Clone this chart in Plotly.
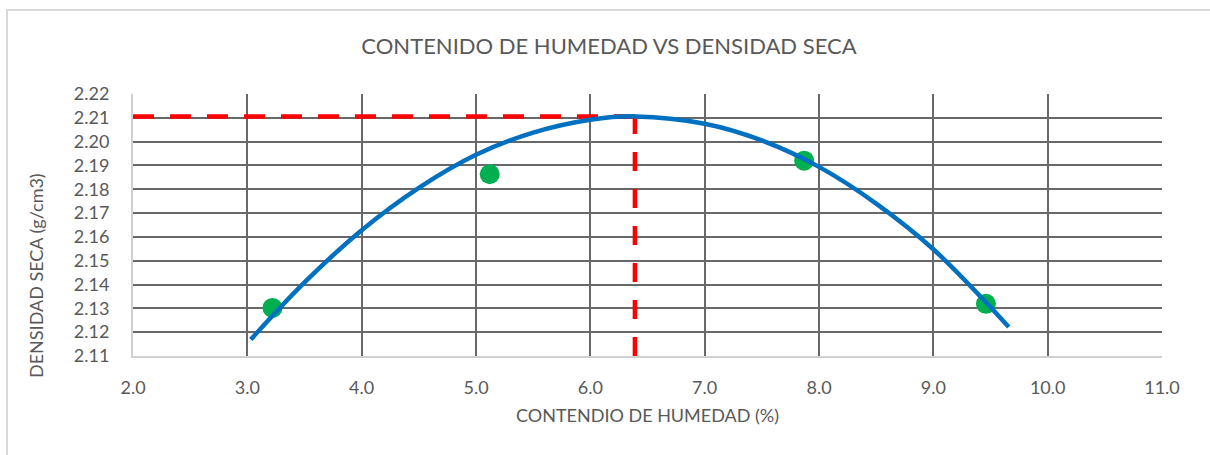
import plotly.graph_objects as go

# ---- data ----
humedad = [3.22, 5.12, 7.87, 9.46]
densidad = [2.1302, 2.1863, 2.1920, 2.1319]

curve_x = [3.03, 3.5, 4.0, 4.5, 5.0, 5.5, 6.0, 6.4, 7.0, 7.5, 8.0, 8.5, 9.0, 9.66]
curve_y = [2.1169, 2.1409, 2.1628, 2.1806, 2.1945, 2.2038, 2.2092, 2.2106,
           2.2075, 2.2005, 2.1894, 2.1740, 2.1548, 2.1222]

opt_x = [2.0, 6.39]
opt_y_h = [2.2106, 2.2106]
opt_x_v = [6.39, 6.39]
opt_y_v = [2.11, 2.2106]

x_ticks = [2.0, 3.0, 4.0, 5.0, 6.0, 7.0, 8.0, 9.0, 10.0, 11.0]
y_ticks = [2.11, 2.12, 2.13, 2.14, 2.15, 2.16, 2.17, 2.18, 2.19, 2.20, 2.21, 2.22]

# ---- layout geometry ----
W, H = 1210, 455
L, R, T, B = 133, 1162, 94, 356


def px(x):
    return (x - L) / (R - L)


def py(y):
    return (B - y) / (B - T)


FONT = "Lato"
GREY = "#595959"

fig = go.Figure()

fig.add_trace(go.Scatter(x=opt_x, y=opt_y_h, mode="lines",
                         line=dict(color="#ff0000", width=4.5, dash="21px,16px"),
                         hoverinfo="skip", showlegend=False))
fig.add_trace(go.Scatter(x=opt_x_v, y=opt_y_v, mode="lines",
                         line=dict(color="#ff0000", width=4.5, dash="19px,18px"),
                         hoverinfo="skip", showlegend=False))
fig.add_trace(go.Scatter(x=humedad, y=densidad, mode="markers",
                         marker=dict(color="#00b050", size=20),
                         showlegend=False))
fig.add_trace(go.Scatter(x=curve_x, y=curve_y, mode="lines",
                         line=dict(color="#0070c0", width=4.5, shape="spline"),
                         showlegend=False))

fig.update_layout(
    width=W, height=H,
    margin=dict(l=L, r=W - R, t=T, b=H - B),
    paper_bgcolor="white", plot_bgcolor="white",
    font=dict(family=FONT, color=GREY, size=18),
    title=dict(text="CONTENIDO DE HUMEDAD VS DENSIDAD SECA",
               x=609 / W, xanchor="center", y=1 - 46 / H, yanchor="middle",
               font=dict(family=FONT, size=22, color=GREY)),
    xaxis=dict(range=[2.0, 11.0], tickvals=x_ticks,
               ticktext=[f"{v:.1f}" for v in x_ticks],
               showgrid=True, gridcolor="#686868", gridwidth=1.5,
               showline=True, linecolor="#d0d0d0", linewidth=2,
               zeroline=False, ticks="", ticklabelstandoff=14,
               tickfont=dict(size=18, color=GREY)),
    yaxis=dict(range=[2.11, 2.22], tickvals=y_ticks,
               ticktext=[f"{v:.2f}" for v in y_ticks],
               showgrid=True, gridcolor="#686868", gridwidth=1.5,
               showline=True, linecolor="#d0d0d0", linewidth=2,
               zeroline=False, ticks="", ticklabelstandoff=18,
               tickfont=dict(size=18, color=GREY)),
    annotations=[
        dict(text="CONTENDIO DE HUMEDAD (%)", xref="paper", yref="paper",
             x=px(647), y=py(415), xanchor="center", yanchor="middle",
             showarrow=False, font=dict(family=FONT, size=18, color=GREY)),
        dict(text="DENSIDAD SECA (g/cm3)", xref="paper", yref="paper",
             x=px(36), y=py(276), xanchor="center", yanchor="middle",
             textangle=-90, showarrow=False,
             font=dict(family=FONT, size=18, color=GREY)),
    ],
    shapes=[
        dict(type="line", xref="paper", yref="paper",
             x0=px(6), x1=px(1212), y0=py(10), y1=py(10),
             line=dict(color="#d9d9d9", width=2)),
        dict(type="line", xref="paper", yref="paper",
             x0=px(7), x1=px(7), y0=py(9), y1=py(460),
             line=dict(color="#d9d9d9", width=2)),
    ],
)

fig.write_html("out.html", config={"displayModeBar": False},
               post_script="document.body.style.margin='0';")
